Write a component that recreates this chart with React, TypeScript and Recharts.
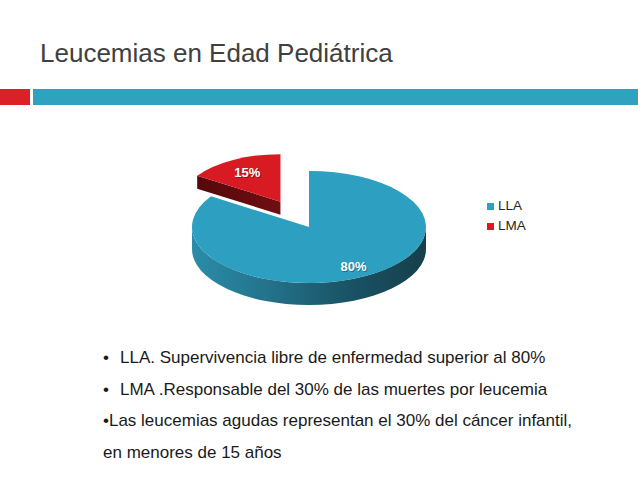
import React from "react";
import { PieChart, Pie, Cell, Legend } from "recharts";

// slice data (clockwise from 12 o'clock)
const categories = ["LLA", "LMA"];
const values = [80, 15];

const title = "Leucemias en Edad Pediátrica";
const bulletLines = [
  { bullet: "•", text: "LLA. Supervivencia libre de enfermedad superior al 80%" },
  { bullet: "•", text: "LMA .Responsable del 30% de las muertes por leucemia" },
  { bullet: "", text: "•Las leucemias agudas representan el 30% del cáncer infantil," },
  { bullet: "", text: "en menores de 15 años" },
];

const data = categories.map((name, i) => ({ name, value: values[i] }));

const FONT = "'Liberation Sans', Arial, sans-serif";
const TILT = 56 / 117; // vertical squash of the pie

// look of each slice (scale fakes perspective of the pulled-out slice)
const SLICE_STYLE: Record<string, any> = {
  LLA: { top: "#2d9fc0", side: ["#2b8ca9", "#23728a", "#1a5365", "#153f4b"], depth: 22, explode: 0, scale: 1, labelAt: 0.8 },
  LMA: { top: "#d81b22", side: ["#4f0709", "#650c0f", "#7a1216", "#8a1519"], depth: 13, explode: 60, scale: 0.85, labelAt: 0.7 },
};

const rad = (a: number) => (a * Math.PI) / 180;

function Slice3D(props: any) {
  const { cx, cy, outerRadius, startAngle, endAngle, name, value, index } = props;
  const st = SLICE_STYLE[name];
  const rx = outerRadius * st.scale;
  const ry = rx * TILT;
  const lo = Math.min(startAngle, endAngle);
  const hi = Math.max(startAngle, endAngle);
  const mid = (lo + hi) / 2;
  const px = cx + st.explode * Math.cos(rad(mid));
  const py = cy - st.explode * TILT * Math.sin(rad(mid));
  const d = st.depth;
  const P = (a: number, dz = 0) => `${px + rx * Math.cos(rad(a))},${py - ry * Math.sin(rad(a)) + dz}`;

  const walls: string[] = [];
  // radial walls facing the viewer
  if (Math.cos(rad(lo)) > 0.001) walls.push(`M${px},${py} L${P(lo)} L${P(lo, d)} L${px},${py + d} Z`);
  if (Math.cos(rad(hi)) < -0.001) walls.push(`M${px},${py} L${P(hi)} L${P(hi, d)} L${px},${py + d} Z`);
  // outer wall, front half only
  for (let k = Math.floor(lo / 360) - 1; k <= Math.ceil(hi / 360) + 1; k++) {
    const s = Math.max(lo, 180 + 360 * k);
    const e = Math.min(hi, 360 + 360 * k);
    if (s < e) {
      walls.push(`M${P(s)} A${rx},${ry} 0 0 0 ${P(e)} L${P(e, d)} A${rx},${ry} 0 0 1 ${P(s, d)} Z`);
    }
  }
  const large = hi - lo > 180 ? 1 : 0;
  const top = `M${px},${py} L${P(lo)} A${rx},${ry} 0 ${large} 0 ${P(hi)} Z`;
  const lx = px + st.labelAt * rx * Math.cos(rad(mid));
  const ly = py - st.labelAt * ry * Math.sin(rad(mid));
  const gid = `side-grad-${index}`;

  return (
    <g>
      <defs>
        <linearGradient id={gid} gradientUnits="userSpaceOnUse" x1={px - rx} y1={0} x2={px + rx} y2={0}>
          {st.side.map((c: string, i: number) => (
            <stop key={i} offset={i / (st.side.length - 1)} stopColor={c} />
          ))}
        </linearGradient>
      </defs>
      {walls.map((w, i) => (
        <path key={i} d={w} fill={`url(#${gid})`} />
      ))}
      <path d={top} fill={st.top} />
      <text x={lx + 1} y={ly + 1} textAnchor="middle" dominantBaseline="central" fill="#000" opacity={0.3}
        style={{ fontFamily: FONT, fontSize: 13, fontWeight: "bold" }}>{`${value}%`}</text>
      <text x={lx} y={ly} textAnchor="middle" dominantBaseline="central" fill="#fff"
        style={{ fontFamily: FONT, fontSize: 13, fontWeight: "bold" }}>{`${value}%`}</text>
    </g>
  );
}

export default function App() {
  return (
    <div style={{ position: "absolute", left: 0, top: 0, width: 638, height: 479, background: "#fff", overflow: "hidden" }}>
      {/* slide title, header bars and bullet text */}
      <svg width={638} height={479} style={{ position: "absolute", left: 0, top: 0 }}>
        <text x={40} y={62} fill="#404040" style={{ fontFamily: FONT, fontSize: 26 }}>{title}</text>
        <rect x={0} y={89} width={30} height={16} fill="#dc2028" />
        <rect x={33} y={89} width={605} height={16} fill="#2ea2bf" />
        {bulletLines.map((l, i) => (
          <g key={i} style={{ fontFamily: FONT, fontSize: 17 }} fill="#1a1a1a">
            {l.bullet && <text x={103} y={363 + i * 31.5}>{l.bullet}</text>}
            <text x={l.bullet ? 120 : 103} y={363 + i * 31.5}>{l.text}</text>
          </g>
        ))}
      </svg>
      <div style={{ position: "absolute", left: 0, top: 0 }}>
        <PieChart width={638} height={479} margin={{ top: 0, right: 0, bottom: 0, left: 0 }}>
          <Pie
            data={data}
            dataKey="value"
            nameKey="name"
            cx={309}
            cy={227}
            outerRadius={117}
            startAngle={90}
            endAngle={-270}
            stroke="none"
            legendType="square"
            labelLine={false}
            label={Slice3D}
            isAnimationActive={false}
          >
            {data.map((d) => (
              <Cell key={d.name} fill={SLICE_STYLE[d.name].top} fillOpacity={0} />
            ))}
          </Pie>
          <Legend
            layout="vertical"
            align="right"
            verticalAlign="middle"
            iconType="square"
            iconSize={7}
            itemSorter="value"
            wrapperStyle={{ left: 487, top: 196, fontFamily: FONT, fontSize: 13.5, lineHeight: "20px" }}
            formatter={(v: any) => <span style={{ color: "#262626" }}>{v}</span>}
          />
        </PieChart>
      </div>
    </div>
  );
}
